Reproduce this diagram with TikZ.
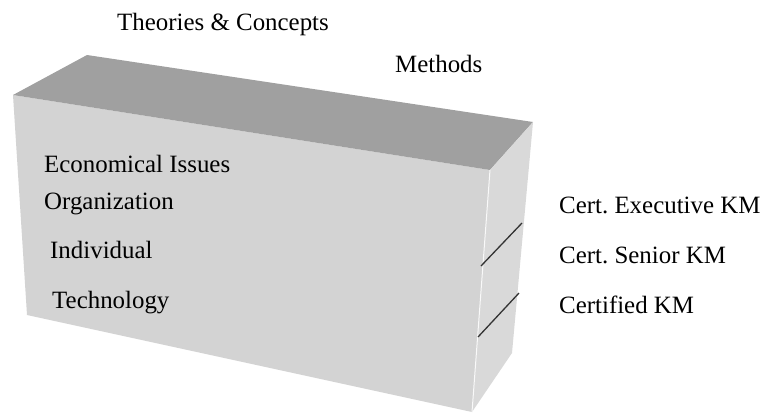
\documentclass[tikz,border=0pt]{standalone}
\usepackage{fontspec}
\setmainfont{Liberation Serif}
\usepackage{tikz}
\frenchspacing

\definecolor{topgray}{HTML}{A0A0A0}
\definecolor{frontgray}{HTML}{D3D3D3}
\definecolor{sidegray}{HTML}{D9D9D9}

\tikzset{
    label/.style={anchor=base west, inner sep=0pt, font=\fontsize{24.9}{30}\selectfont},
    divider/.style={line width=1.3pt, black!80}
}

\begin{document}
\begin{tikzpicture}[x=1pt, y=-1pt]
                \useasboundingbox (0, 0) rectangle (763, 413);
                % corners of the block
                \coordinate (FTL) at (13, 95);
                \coordinate (FTR) at (490, 170);
                \coordinate (FBR) at (472, 412);
                \coordinate (FBL) at (27, 315);
                \coordinate (BTL) at (87, 55);
                \coordinate (BTR) at (533, 122);
                \coordinate (BBR) at (512, 353);
                \fill[frontgray] (FTL) -- (FTR) -- (FBR) -- (FBL) -- cycle;
                \fill[topgray] (FTL) -- (BTL) -- (BTR) -- (FTR) -- cycle;
                \fill[sidegray] (FTR) -- (BTR) -- (BBR) -- (FBR) -- cycle;
                \draw[white!95!gray, line width=1pt] (FTR) -- (FBR);
                % dividers on the side
                \coordinate (D1a) at (481, 266);
                \coordinate (D1b) at (522, 223);
                \coordinate (D2a) at (478, 337);
                \coordinate (D2b) at (519, 293);
                \draw[divider] (D1a) -- (D1b);
                \draw[divider] (D2a) -- (D2b);
                % labels
                \node[label] (theories) at (117, 30) {Theories \& Concepts};
                \node[label] (methods) at (395, 72) {Methods};
                \node[label] (econ) at (44, 172) {Economical Issues};
                \node[label] (org) at (44, 209) {Organization};
                \node[label] (indiv) at (50, 258) {Individual};
                \node[label] (tech) at (52, 308) {Technology};
                \node[label] (certexec) at (559, 213) {Cert. Executive KM};
                \node[label] (certsen) at (559, 263) {Cert. Senior KM};
                \node[label] (certkm) at (559, 313) {Certified KM};
            \end{tikzpicture}
\end{document}
